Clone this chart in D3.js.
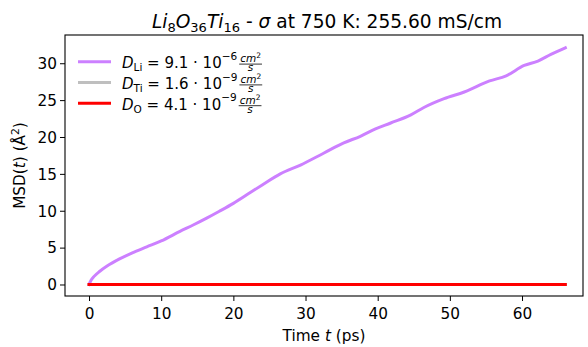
<!DOCTYPE html>
<html><head><meta charset="utf-8">
<script src="https://cdn.jsdelivr.net/npm/d3@7"></script>
<style>
body{margin:0;background:#fff;}
text{font-family:"DejaVu Sans",sans-serif;fill:#000;}
</style></head>
<body><svg id="c" width="588" height="347"></svg>
<script>
// ---- data ----
const timeLi = [0,0.3,0.7,1.5,2.5,4.3,6,8,10,12.6,14.5,16.3,18,20,22.4,24,26.5,29.3,32.5,35.3,37.6,39.7,41.8,44.6,46.4,49.2,52,55.5,57.8,60.3,62.2,64,66];
const msdLi  = [0,0.6,1.1,1.8,2.5,3.5,4.3,5.1,5.9,7.2,8.1,9.0,9.9,11.0,12.5,13.5,15.0,16.2,17.8,19.2,20.1,21.1,21.9,23.0,24.0,25.2,26.1,27.6,28.3,29.7,30.3,31.2,32.1];
const timeOther = [0,10,20,30,40,50,60,66];
const msdTi = [0,0.005,0.008,0.01,0.01,0.012,0.012,0.013];
const msdO  = [0,0.006,0.01,0.012,0.013,0.014,0.015,0.016];
const xTicks = [0,10,20,30,40,50,60];
const yTicks = [0,5,10,15,20,25,30];
const legendItems = [
  {sub:"Li", mant:"9.1", exp:"−6", color:"#cc80ff"},
  {sub:"Ti", mant:"1.6", exp:"−9", color:"#bfbfbf"},
  {sub:"O",  mant:"4.1", exp:"−9", color:"#ff0000"}
];

const FS = 15.3;
const svg = d3.select("#c");
const L=65,R=583,T=35,B=296;
const x = d3.scaleLinear().domain([-3.33,68.45]).range([L,R]);
const y = d3.scaleLinear().domain([-1.56,33.83]).range([B,T]);

// lines
const line = d3.line().x(d=>x(d[0])).y(d=>y(d[1])).curve(d3.curveMonotoneX);
const series = [
  {t:timeLi, v:msdLi, c:legendItems[0].color},
  {t:timeOther, v:msdTi, c:legendItems[1].color},
  {t:timeOther, v:msdO, c:legendItems[2].color}
];
series.forEach(s=>{
  svg.append("path").datum(s.t.map((t,i)=>[t,s.v[i]]))
    .attr("d",line).attr("fill","none").attr("stroke",s.c)
    .attr("stroke-width",3).attr("stroke-linecap","square").attr("stroke-linejoin","round");
});

// axes
const xAxis = d3.axisBottom(x).tickValues(xTicks).tickSize(5).tickPadding(7.6).tickFormat(d3.format("d"));
const yAxis = d3.axisLeft(y).tickValues(yTicks).tickSize(5).tickPadding(3).tickFormat(d3.format("d"));
const gx = svg.append("g").attr("transform",`translate(0,${B})`).call(xAxis);
const gy = svg.append("g").attr("transform",`translate(${L},0)`).call(yAxis);
[gx,gy].forEach(g=>{
  g.select(".domain").remove();
  g.selectAll("text").attr("font-size",FS).attr("font-family","DejaVu Sans").attr("fill","#000");
  g.selectAll("line").attr("stroke","#000").attr("stroke-width",1);
});
gy.selectAll("text").attr("dy","0.35em");
gx.selectAll("text").attr("dy","0.71em");
svg.append("rect").attr("x",L).attr("y",T).attr("width",R-L).attr("height",B-T)
  .attr("fill","none").attr("stroke","#000").attr("stroke-width",1.1);

// axis labels
const xl = svg.append("text").attr("x",(L+R)/2).attr("y",340.5).attr("text-anchor","middle").attr("font-size",FS);
xl.append("tspan").text("Time ");
xl.append("tspan").attr("font-style","italic").text("t");
xl.append("tspan").text(" (ps)");

const yl = svg.append("text").attr("transform",`translate(25,${(T+B)/2}) rotate(-90)`).attr("text-anchor","middle").attr("font-size",FS);
yl.append("tspan").text("MSD(");
yl.append("tspan").attr("font-style","italic").text("t");
yl.append("tspan").text(") (Å");
yl.append("tspan").attr("font-size",FS*0.7).attr("dy",-6).text("2");
yl.append("tspan").attr("dy",6).text(")");

// title
const TS = 18.6;
const tt = svg.append("text").attr("x",(L+R)/2+3).attr("y",27.5).attr("text-anchor","middle").attr("font-size",TS);
const parts = [["Li",0],["8",1],["O",0],["36",1],["Ti",0],["16",1]];
let shifted=false;
parts.forEach(p=>{
  const ts = tt.append("tspan").text(p[0]);
  if(p[1]===0){ ts.attr("font-style","italic"); if(shifted){ts.attr("dy",-4); shifted=false;} }
  else { ts.attr("font-size",TS*0.7).attr("dy",4); shifted=true; }
});
tt.append("tspan").attr("dy",-4).text(" - ");
tt.append("tspan").attr("font-style","italic").text("σ");
tt.append("tspan").text(" at 750 K: 255.60 mS/cm");

// legend
const LS = 15;
const lg = svg.append("g");
legendItems.forEach((it,i)=>{
  const ly = 61.7 + i*20.8;
  lg.append("line").attr("x1",78).attr("x2",111).attr("y1",ly).attr("y2",ly)
    .attr("stroke",it.color).attr("stroke-width",3);
  const base = ly+6.6;
  const tx = lg.append("text").attr("x",122).attr("y",base).attr("font-size",LS);
  tx.append("tspan").attr("font-style","italic").text("D");
  tx.append("tspan").attr("font-size",LS*0.7).attr("dy",3).text(it.sub);
  tx.append("tspan").attr("dy",-3).text(" = "+it.mant+" · 10");
  tx.append("tspan").attr("font-size",LS*0.7).attr("dy",-8.5).text(it.exp);
  const w = tx.node().getComputedTextLength();
  const fx = 122 + w + 2;
  const num = lg.append("text").attr("x",0).attr("y",base-6.3).attr("font-size",LS*0.7).attr("font-style","italic");
  num.append("tspan").text("cm");
  num.append("tspan").attr("font-size",LS*0.5).attr("dy",-4).attr("font-style","normal").text("2");
  const nw = num.node().getComputedTextLength();
  const fw = nw + 2;
  num.attr("x",fx+1);
  lg.append("line").attr("x1",fx).attr("x2",fx+fw).attr("y1",base-4.2).attr("y2",base-4.2)
    .attr("stroke","#000").attr("stroke-width",0.8);
  lg.append("text").attr("x",fx+fw/2).attr("y",base+2.8).attr("text-anchor","middle")
    .attr("font-size",LS*0.7).attr("font-style","italic").text("s");
});
</script></body></html>
